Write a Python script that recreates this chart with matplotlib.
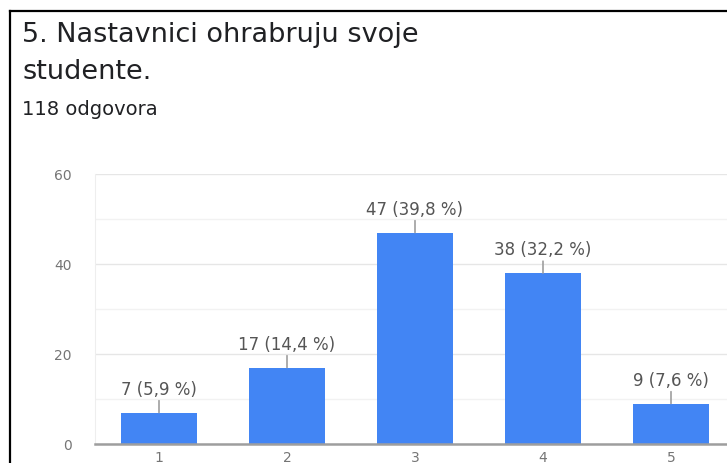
import matplotlib
matplotlib.use("Agg")
import matplotlib.pyplot as plt
from matplotlib.lines import Line2D

# podaci sa grafikona
ocjene = ["1", "2", "3", "4", "5"]
broj = [7, 17, 47, 38, 9]
procenti = ["5,9", "14,4", "39,8", "32,2", "7,6"]
y_ticks = [0, 20, 40, 60]

plt.rcParams["font.family"] = ["DejaVu Sans"]

fig = plt.figure(figsize=(7.27, 4.64), dpi=100)
fig.patch.set_facecolor("white")

# okvir (crna linija lijevo i gore)
fig.add_artist(Line2D([10 / 727, 10 / 727], [0, 1 - 12 / 464], color="black", lw=1.6))
fig.add_artist(Line2D([10 / 727, 1], [1 - 12 / 464, 1 - 12 / 464], color="black", lw=1.6))

fig.text(22 / 727, 1 - 35 / 464, "5. Nastavnici ohrabruju svoje", fontsize=19.5,
         color="#202124", va="center", ha="left")
fig.text(22 / 727, 1 - 72 / 464, "studente.", fontsize=19.5,
         color="#202124", va="center", ha="left")
fig.text(22 / 727, 1 - 110 / 464, "118 odgovora", fontsize=14,
         color="#202124", va="center", ha="left")

ax = fig.add_axes([95 / 727, 19 / 464, 640 / 727, 270 / 464])
x = range(len(ocjene))
ax.bar(x, broj, width=0.6, color="#4285f4", zorder=3)

ax.set_xlim(-0.5, 4.5)
ax.set_ylim(0, 60)
ax.set_yticks(y_ticks)
ax.set_yticks([10, 30, 50], minor=True)
ax.set_xticks(list(x))
ax.set_xticklabels(ocjene)
ax.tick_params(axis="both", length=0, labelsize=10, labelcolor="#757575")
ax.tick_params(axis="y", pad=17)
ax.tick_params(axis="x", pad=4)
ax.tick_params(axis="y", which="minor", length=0)
ax.grid(axis="y", which="major", color="#e6e6e6", lw=1, zorder=0)
ax.grid(axis="y", which="minor", color="#f2f2f2", lw=1, zorder=0)

for s in ["top", "right"]:
    ax.spines[s].set_visible(False)
ax.spines["left"].set_color("#eeeeee")
ax.spines["bottom"].set_color("#9e9e9e")
ax.spines["bottom"].set_linewidth(1.8)
ax.spines["bottom"].set_zorder(4)

for i, (v, p) in enumerate(zip(broj, procenti)):
    ax.annotate(f"{v} ({p} %)", xy=(i, v), xytext=(0, 17), textcoords="offset points",
                ha="center", va="center", fontsize=12, color="#555555",
                arrowprops=dict(arrowstyle="-", color="#9e9e9e", lw=1.2,
                                shrinkA=0, shrinkB=0))

fig.savefig("out.png", dpi=100)
